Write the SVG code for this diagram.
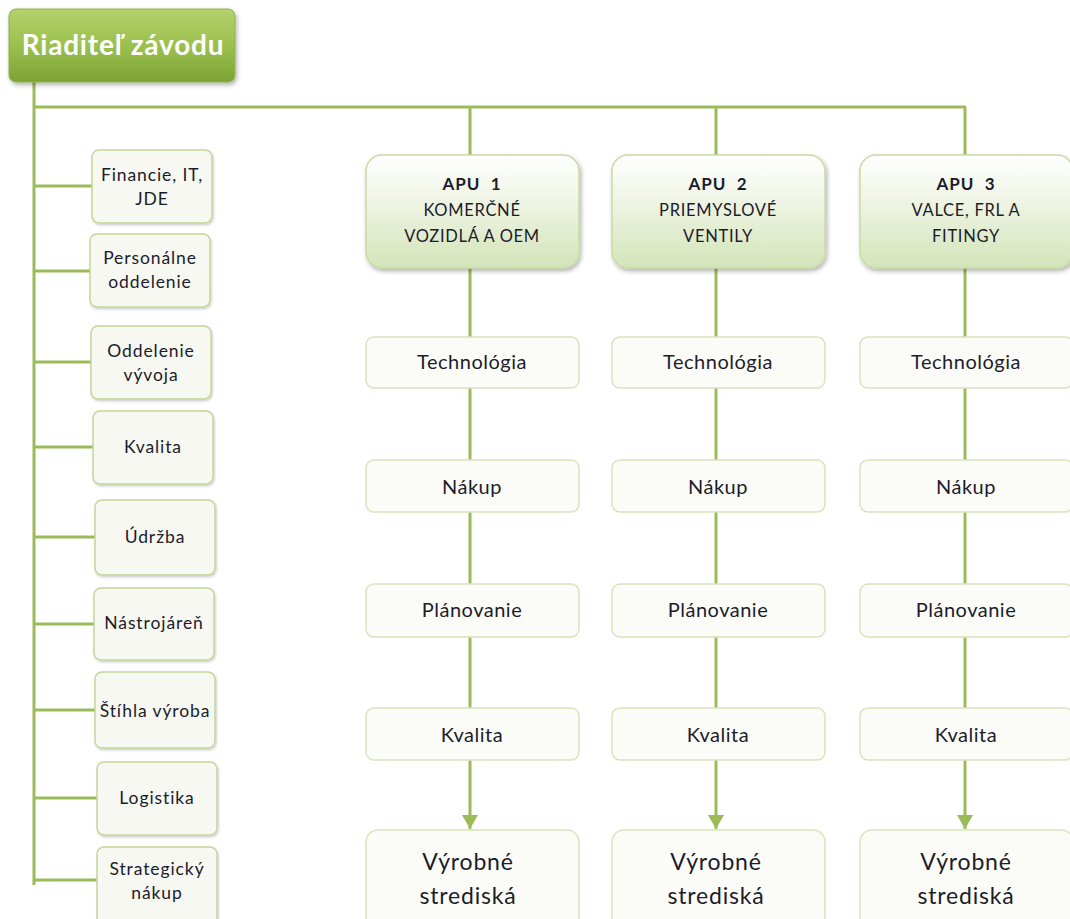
<svg xmlns="http://www.w3.org/2000/svg" width="1070" height="919" viewBox="0 0 1070 919">
<defs>
<linearGradient id="gTop" x1="0" y1="0" x2="0" y2="1">
<stop offset="0" stop-color="#b5d26e"/><stop offset="0.5" stop-color="#9bc04e"/><stop offset="1" stop-color="#7da336"/>
</linearGradient>
<linearGradient id="gApu" x1="0" y1="0" x2="0" y2="1">
<stop offset="0" stop-color="#ffffff"/><stop offset="0.35" stop-color="#f1f6e8"/><stop offset="1" stop-color="#d4e4b9"/>
</linearGradient>
<filter id="sh" x="-10%" y="-10%" width="125%" height="130%">
<feDropShadow dx="1.5" dy="2.5" stdDeviation="2" flood-color="#000" flood-opacity="0.3"/>
</filter>
<filter id="shs" x="-10%" y="-10%" width="125%" height="130%">
<feDropShadow dx="1" dy="1.5" stdDeviation="1.2" flood-color="#000" flood-opacity="0.2"/>
</filter>
<marker id="arr" markerWidth="16" markerHeight="16" refX="14" refY="8" orient="auto" markerUnits="userSpaceOnUse" viewBox="0 0 16 16">
<path d="M0,0 L14,8 L0,16 z" fill="#9bbb59"/>
</marker>
</defs>
<style>
.ln{stroke:#9bbb59;stroke-width:3;fill:none}
.top{fill:url(#gTop);stroke:#8db04a;stroke-width:1;filter:url(#sh)}
.apu{fill:url(#gApu);stroke:#c7dba4;stroke-width:1.5;filter:url(#sh)}
.sub{fill:#fbfcf7;stroke:#d7e4bd;stroke-width:1.5}
.lb{fill:#f6f8f1;stroke:#c3d69b;stroke-width:1.5;filter:url(#shs)}
text{font-family:Lato,"Open Sans","DejaVu Sans",sans-serif;text-anchor:middle;fill:#1c1c2c}
.tt{font-size:28px;font-weight:bold;fill:#ffffff;letter-spacing:0.8px}
.l{font-size:17.5px;letter-spacing:0.9px}
.s{font-size:20px;letter-spacing:0.5px}
.v{font-size:23px;letter-spacing:0.8px}
.a{font-size:16.5px;letter-spacing:0.7px}
.ab{font-size:17px;font-weight:bold;letter-spacing:1px;white-space:pre}
</style>
<g id="connectors">
<path class="ln" d="M34,82 V885"/>
<path class="ln" d="M34,107 H966"/>
<path class="ln" d="M470,107 V155 M716,107 V155 M965,107 V155"/>
<path class="ln" d="M34,186 H92 M34,271 H90 M34,362 H91 M34,447 H93 M34,537 H95 M34,624 H94 M34,710 H95 M34,798 H97 M34,880 H97"/>
<path class="ln" d="M470,268 V337 M470,388 V460 M470,512 V584 M470,637 V708"/>
<path class="ln" d="M716,268 V337 M716,388 V460 M716,512 V584 M716,637 V708"/>
<path class="ln" d="M965,268 V337 M965,388 V460 M965,512 V584 M965,637 V708"/>
<path class="ln" d="M470,760 V829" marker-end="url(#arr)"/>
<path class="ln" d="M716,760 V829" marker-end="url(#arr)"/>
<path class="ln" d="M965,760 V829" marker-end="url(#arr)"/>
</g>
<g id="director"><rect class="top" x="9" y="9" width="226" height="73" rx="7"/><text class="tt" x="123" y="55">Riaditeľ závodu</text></g>
<g id="financie"><rect class="lb" x="92" y="150" width="120" height="73" rx="7"/><text class="l" x="152" y="181">Financie, IT,</text><text class="l" x="152" y="205">JDE</text></g>
<g id="personalne"><rect class="lb" x="90" y="234" width="120" height="73" rx="7"/><text class="l" x="150" y="264">Personálne</text><text class="l" x="150" y="288">oddelenie</text></g>
<g id="vyvoj"><rect class="lb" x="91" y="326" width="120" height="73" rx="7"/><text class="l" x="151" y="357">Oddelenie</text><text class="l" x="151" y="381">vývoja</text></g>
<g id="kvalita-l"><rect class="lb" x="93" y="411" width="120" height="73" rx="7"/><text class="l" x="153" y="453">Kvalita</text></g>
<g id="udrzba"><rect class="lb" x="95" y="500" width="120" height="75" rx="7"/><text class="l" x="155" y="543">Údržba</text></g>
<g id="nastrojaren"><rect class="lb" x="94" y="588" width="120" height="72" rx="7"/><text class="l" x="154" y="629">Nástrojáreň</text></g>
<g id="stihla"><rect class="lb" x="95" y="672" width="120" height="76" rx="7"/><text class="l" x="155" y="717">Štíhla výroba</text></g>
<g id="logistika"><rect class="lb" x="97" y="762" width="120" height="73" rx="7"/><text class="l" x="157" y="804">Logistika</text></g>
<g id="strategicky"><rect class="lb" x="97" y="847" width="120" height="80" rx="7"/><text class="l" x="157" y="875">Strategický</text><text class="l" x="157" y="899">nákup</text></g>
<g id="apu1"><rect class="apu" x="366" y="155" width="213" height="113" rx="16"/><text class="ab" x="472" y="190">APU  1</text><text class="a" x="472" y="216">KOMERČNÉ</text><text class="a" x="472" y="242">VOZIDLÁ A OEM</text></g>
<g id="apu2"><rect class="apu" x="612" y="155" width="213" height="113" rx="16"/><text class="ab" x="718" y="190">APU  2</text><text class="a" x="718" y="216">PRIEMYSLOVÉ</text><text class="a" x="718" y="242">VENTILY</text></g>
<g id="apu3"><rect class="apu" x="860" y="155" width="213" height="113" rx="16"/><text class="ab" x="966" y="190">APU  3</text><text class="a" x="966" y="216">VALCE, FRL A</text><text class="a" x="966" y="242">FITINGY</text></g>
<g id="tech1"><rect class="sub" x="366" y="337" width="213" height="51" rx="8"/><text class="s" x="472" y="369">Technológia</text></g>
<g id="tech2"><rect class="sub" x="612" y="337" width="213" height="51" rx="8"/><text class="s" x="718" y="369">Technológia</text></g>
<g id="tech3"><rect class="sub" x="860" y="337" width="213" height="51" rx="8"/><text class="s" x="966" y="369">Technológia</text></g>
<g id="nakup1"><rect class="sub" x="366" y="460" width="213" height="52" rx="8"/><text class="s" x="472" y="494">Nákup</text></g>
<g id="nakup2"><rect class="sub" x="612" y="460" width="213" height="52" rx="8"/><text class="s" x="718" y="494">Nákup</text></g>
<g id="nakup3"><rect class="sub" x="860" y="460" width="213" height="52" rx="8"/><text class="s" x="966" y="494">Nákup</text></g>
<g id="plan1"><rect class="sub" x="366" y="584" width="213" height="53" rx="8"/><text class="s" x="472" y="617">Plánovanie</text></g>
<g id="plan2"><rect class="sub" x="612" y="584" width="213" height="53" rx="8"/><text class="s" x="718" y="617">Plánovanie</text></g>
<g id="plan3"><rect class="sub" x="860" y="584" width="213" height="53" rx="8"/><text class="s" x="966" y="617">Plánovanie</text></g>
<g id="kval1"><rect class="sub" x="366" y="708" width="213" height="52" rx="8"/><text class="s" x="472" y="742">Kvalita</text></g>
<g id="kval2"><rect class="sub" x="612" y="708" width="213" height="52" rx="8"/><text class="s" x="718" y="742">Kvalita</text></g>
<g id="kval3"><rect class="sub" x="860" y="708" width="213" height="52" rx="8"/><text class="s" x="966" y="742">Kvalita</text></g>
<g id="vyr1"><rect class="sub" x="366" y="830" width="213" height="100" rx="12"/><text class="v" x="468" y="870">Výrobné</text><text class="v" x="468" y="904">strediská</text></g>
<g id="vyr2"><rect class="sub" x="612" y="830" width="213" height="100" rx="12"/><text class="v" x="716" y="870">Výrobné</text><text class="v" x="716" y="904">strediská</text></g>
<g id="vyr3"><rect class="sub" x="860" y="830" width="213" height="100" rx="12"/><text class="v" x="966" y="870">Výrobné</text><text class="v" x="966" y="904">strediská</text></g>
</svg>
